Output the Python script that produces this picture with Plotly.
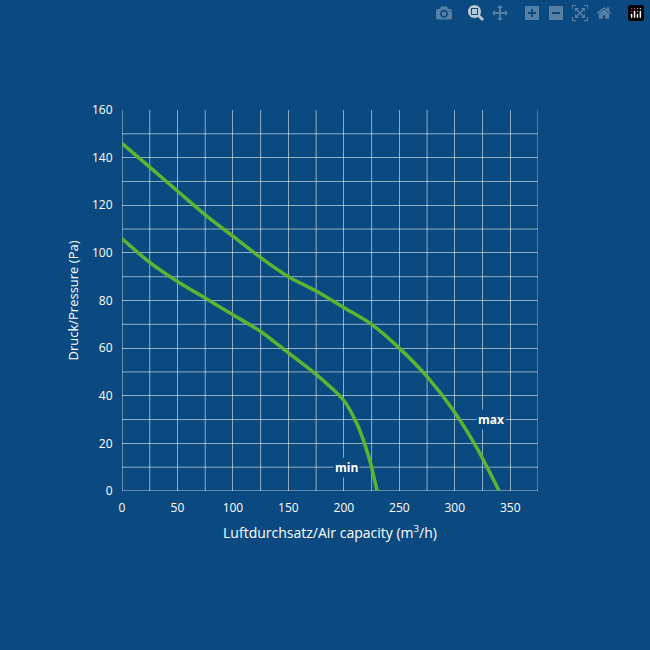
import plotly.graph_objects as go

max_x = [0, 25, 50, 75, 100, 125, 150, 175, 200, 225, 250, 275, 300, 320, 340]
max_y = [146, 136, 126, 116, 107, 98, 90, 84, 77, 70, 60, 48, 33, 18, 0]
min_x = [0, 25, 50, 75, 100, 125, 150, 175, 200, 212, 220, 225, 228, 230]
min_y = [106, 96, 88, 81, 74, 67, 58, 49, 38, 28, 18, 10, 4, 0]
labels = [("max", 333, 30), ("min", 202, 10)]

bg = "#0b4a80"
green = "#5cb531"
grid = "rgba(255,255,255,0.55)"
fig = go.Figure()
fig.add_trace(go.Scatter(x=max_x, y=max_y, mode="lines", line=dict(color=green, width=3.5, shape="spline", smoothing=0.8)))
fig.add_trace(go.Scatter(x=min_x, y=min_y, mode="lines", line=dict(color=green, width=3.5, shape="spline", smoothing=0.8)))
for t, x, y in labels:
    fig.add_annotation(x=x, y=y, text="<b>"+t+"</b>", showarrow=False, bgcolor=bg,
                       font=dict(color="white", size=12, family="Open Sans"))
fig.update_layout(
    width=650, height=650, paper_bgcolor=bg, plot_bgcolor=bg, showlegend=False,
    margin=dict(l=122, r=112, t=110, b=159),
    font=dict(family="Open Sans", color="white", size=12),
    xaxis=dict(range=[0, 375], showgrid=True, gridcolor=grid, gridwidth=1, zeroline=False, showline=False,
               tickvals=[0, 50, 100, 150, 200, 250, 300, 350], ticks="outside", ticklen=6, tickcolor="rgba(0,0,0,0)",
               title=dict(text="Luftdurchsatz/Air capacity (m<sup>3</sup>/h)", font=dict(size=14), standoff=12)),
    yaxis=dict(range=[0, 160], showgrid=True, gridcolor=grid, zeroline=False,
               tickvals=list(range(0, 161, 20)), ticks="outside", ticklen=6, tickcolor="rgba(0,0,0,0)",
               title=dict(text="Druck/Pressure (Pa)", font=dict(size=13), standoff=10)),
)
for v in range(25, 376, 50):
    fig.add_vline(x=v, line=dict(color=grid, width=1), layer="below")
for v in range(10, 160, 20):
    fig.add_hline(y=v, line=dict(color=grid, width=1), layer="below")
fig.add_vline(x=0, line=dict(color="rgba(255,255,255,0.7)", width=1), layer="below")
fig.add_hline(y=0, line=dict(color="rgba(255,255,255,0.7)", width=1), layer="below")
fig.write_html("out.html", post_script="document.body.style.margin='0';document.body.style.background='#0b4a80';")
